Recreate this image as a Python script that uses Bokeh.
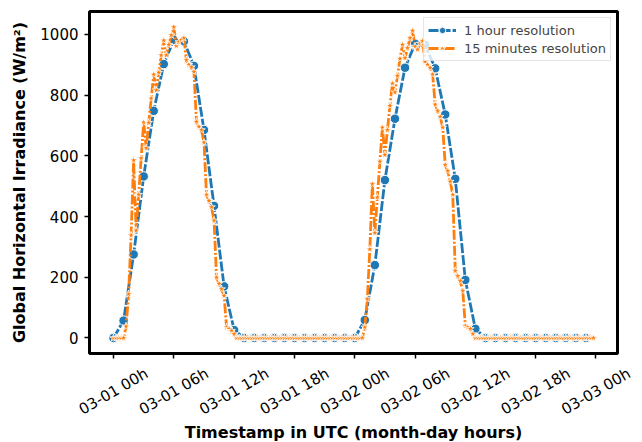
from bokeh.plotting import figure
from bokeh.models import Range1d, FixedTicker, Legend, LegendItem
from bokeh.layouts import column, row
from bokeh.core.properties import value
from bokeh.embed import file_html
from bokeh.resources import INLINE
import math

# ---- data (hours since 03-01 00h UTC) ----
hours_1h = list(range(48))
ghi_1h = [0, 57, 275, 532, 748, 902, 981, 977, 896, 685, 435, 170, 26,
          0, 0, 0, 0, 0, 0, 0, 0, 0, 0, 0,
          0, 59, 240, 520, 722, 890, 969, 965, 888, 736, 524, 191, 30,
          0, 0, 0, 0, 0, 0, 0, 0, 0, 0, 0]

hours_15m = [i * 0.25 for i in range(192)]
day1_15m = [0, 0, 0, 0, 0,
            38, 144, 338, 585, 354, 472, 592, 710, 625, 709, 789, 868,
            816, 874, 931, 980, 931, 966, 997, 1024, 962, 975, 982, 988,
            915, 900, 892, 877, 712, 696, 685, 644, 472, 452, 431, 387,
            199, 179, 161, 139, 35, 30, 24, 13]
day1_15m = day1_15m + [0] * (100 - len(day1_15m))
day2_15m = [35, 128, 292, 507, 346, 463, 581, 693, 603, 685, 765, 838,
            809, 863, 920, 966, 922, 955, 988, 1012, 960, 950, 970, 978,
            909, 900, 890, 868, 769, 748, 729, 693, 570, 550, 515, 472,
            221, 204, 188, 155, 40, 35, 30, 13]
ghi_15m = day1_15m + day2_15m
ghi_15m = ghi_15m + [0] * (192 - len(ghi_15m))

tick_hours = [0, 6, 12, 18, 24, 30, 36, 42, 48]
tick_labels = ["03-01 00h", "03-01 06h", "03-01 12h", "03-01 18h", "03-02 00h",
               "03-02 06h", "03-02 12h", "03-02 18h", "03-03 00h"]
x_title = "Timestamp in UTC (month-day hours)"
y_title = "Global Horizontal Irradiance (W/m²)"

FONT = "DejaVu Sans"
TICK_FS = "15px"
TITLE_FS = "16px"
W = 642
X0, X1 = -2.39, 50.14
Y0, Y1 = -51.2, 1075.2
BL, BR = 89, 25
H1 = 362          # main plot height (frame 11..353 + tick band)
H2 = 442 - H1     # band holding tick labels and x title

p = figure(width=W, height=H1, output_backend="svg", toolbar_location=None,
           x_range=Range1d(X0, X1), y_range=Range1d(Y0, Y1),
           min_border_left=BL, min_border_right=BR, min_border_top=11,
           min_border_bottom=9)
p.background_fill_color = "white"
p.border_fill_color = "white"
p.xgrid.visible = False
p.ygrid.visible = False
p.outline_line_color = "black"
p.outline_line_width = 3

blue = "#1f77b4"
orange = "#ff7f0e"

l1 = p.line(hours_1h, ghi_1h, line_color=blue, line_width=2.8, line_dash="10 2")
m1 = p.scatter(hours_1h, ghi_1h, marker="circle", size=9.5, fill_color=blue,
               line_color="white", line_width=1)
l2 = p.line(hours_15m, ghi_15m, line_color=orange, line_width=2.8, line_dash="10 2 2 2")
m2 = p.scatter(hours_15m, ghi_15m, marker="star", size=8, fill_color=orange,
               line_color="white", line_width=0.8)

legend = Legend(items=[LegendItem(label="1 hour resolution", renderers=[l1, m1]),
                       LegendItem(label="15 minutes resolution", renderers=[l2, m2])],
                location="top_right")
legend.label_text_font = FONT
legend.label_text_font_size = "13px"
legend.border_line_color = "#cccccc"
legend.border_line_width = 1
legend.background_fill_alpha = 0.8
legend.margin = 6
legend.padding = 4
legend.spacing = 2
legend.glyph_width = 28
legend.glyph_height = 16
legend.label_standoff = 8
legend.label_height = 16
p.add_layout(legend)

for ax in (p.xaxis[0], p.yaxis[0]):
    ax.axis_line_color = None
    ax.major_tick_in = 0
    ax.major_tick_out = 5
    ax.major_tick_line_width = 1.5
    ax.minor_tick_line_color = None
    ax.major_label_text_font = FONT
    ax.major_label_text_font_size = TICK_FS
    ax.major_label_text_color = "black"
    ax.axis_label_text_font = FONT
    ax.axis_label_text_font_size = TITLE_FS
    ax.axis_label_text_font_style = "bold"
    ax.axis_label_text_color = "black"

p.xaxis.ticker = FixedTicker(ticks=tick_hours)
p.xaxis.major_label_overrides = {h: "" for h in tick_hours}
p.xaxis.major_label_text_font_size = "0px"
p.xaxis.major_label_standoff = 0

p.yaxis.ticker = FixedTicker(ticks=[0, 200, 400, 600, 800, 1000])
p.yaxis.axis_label = y_title
p.yaxis.axis_label_standoff = 8
p.yaxis.major_label_standoff = 6

# ---- lower band: rotated, centred tick labels and the x-axis title ----
ppu = (W - BL - BR) / (X1 - X0)
p2 = figure(width=W, height=H2, output_backend="svg", toolbar_location=None,
            x_range=Range1d(X0 - BL / ppu, X1 + BR / ppu), y_range=Range1d(0, H2),
            x_axis_type=None, y_axis_type=None, min_border=0)
p2.outline_line_color = None
p2.xgrid.visible = False
p2.ygrid.visible = False
p2.background_fill_color = "white"
p2.border_fill_color = "white"

p2.text(x=tick_hours, y=[H2 - 29] * len(tick_hours), text=tick_labels,
        angle=math.pi / 6, text_align="center", text_baseline="middle",
        text_font=value(FONT), text_font_size=value(TICK_FS), text_color="black")
p2.text(x=[(X0 + X1) / 2], y=[H2 - 70], text=[x_title],
        text_align="center", text_baseline="middle",
        text_font=value(FONT), text_font_size=value(TITLE_FS),
        text_font_style=value("bold"), text_color="black")

layout = column(p, row(p2, spacing=0), spacing=0)
open("out.html", "w").write(file_html(layout, INLINE))
